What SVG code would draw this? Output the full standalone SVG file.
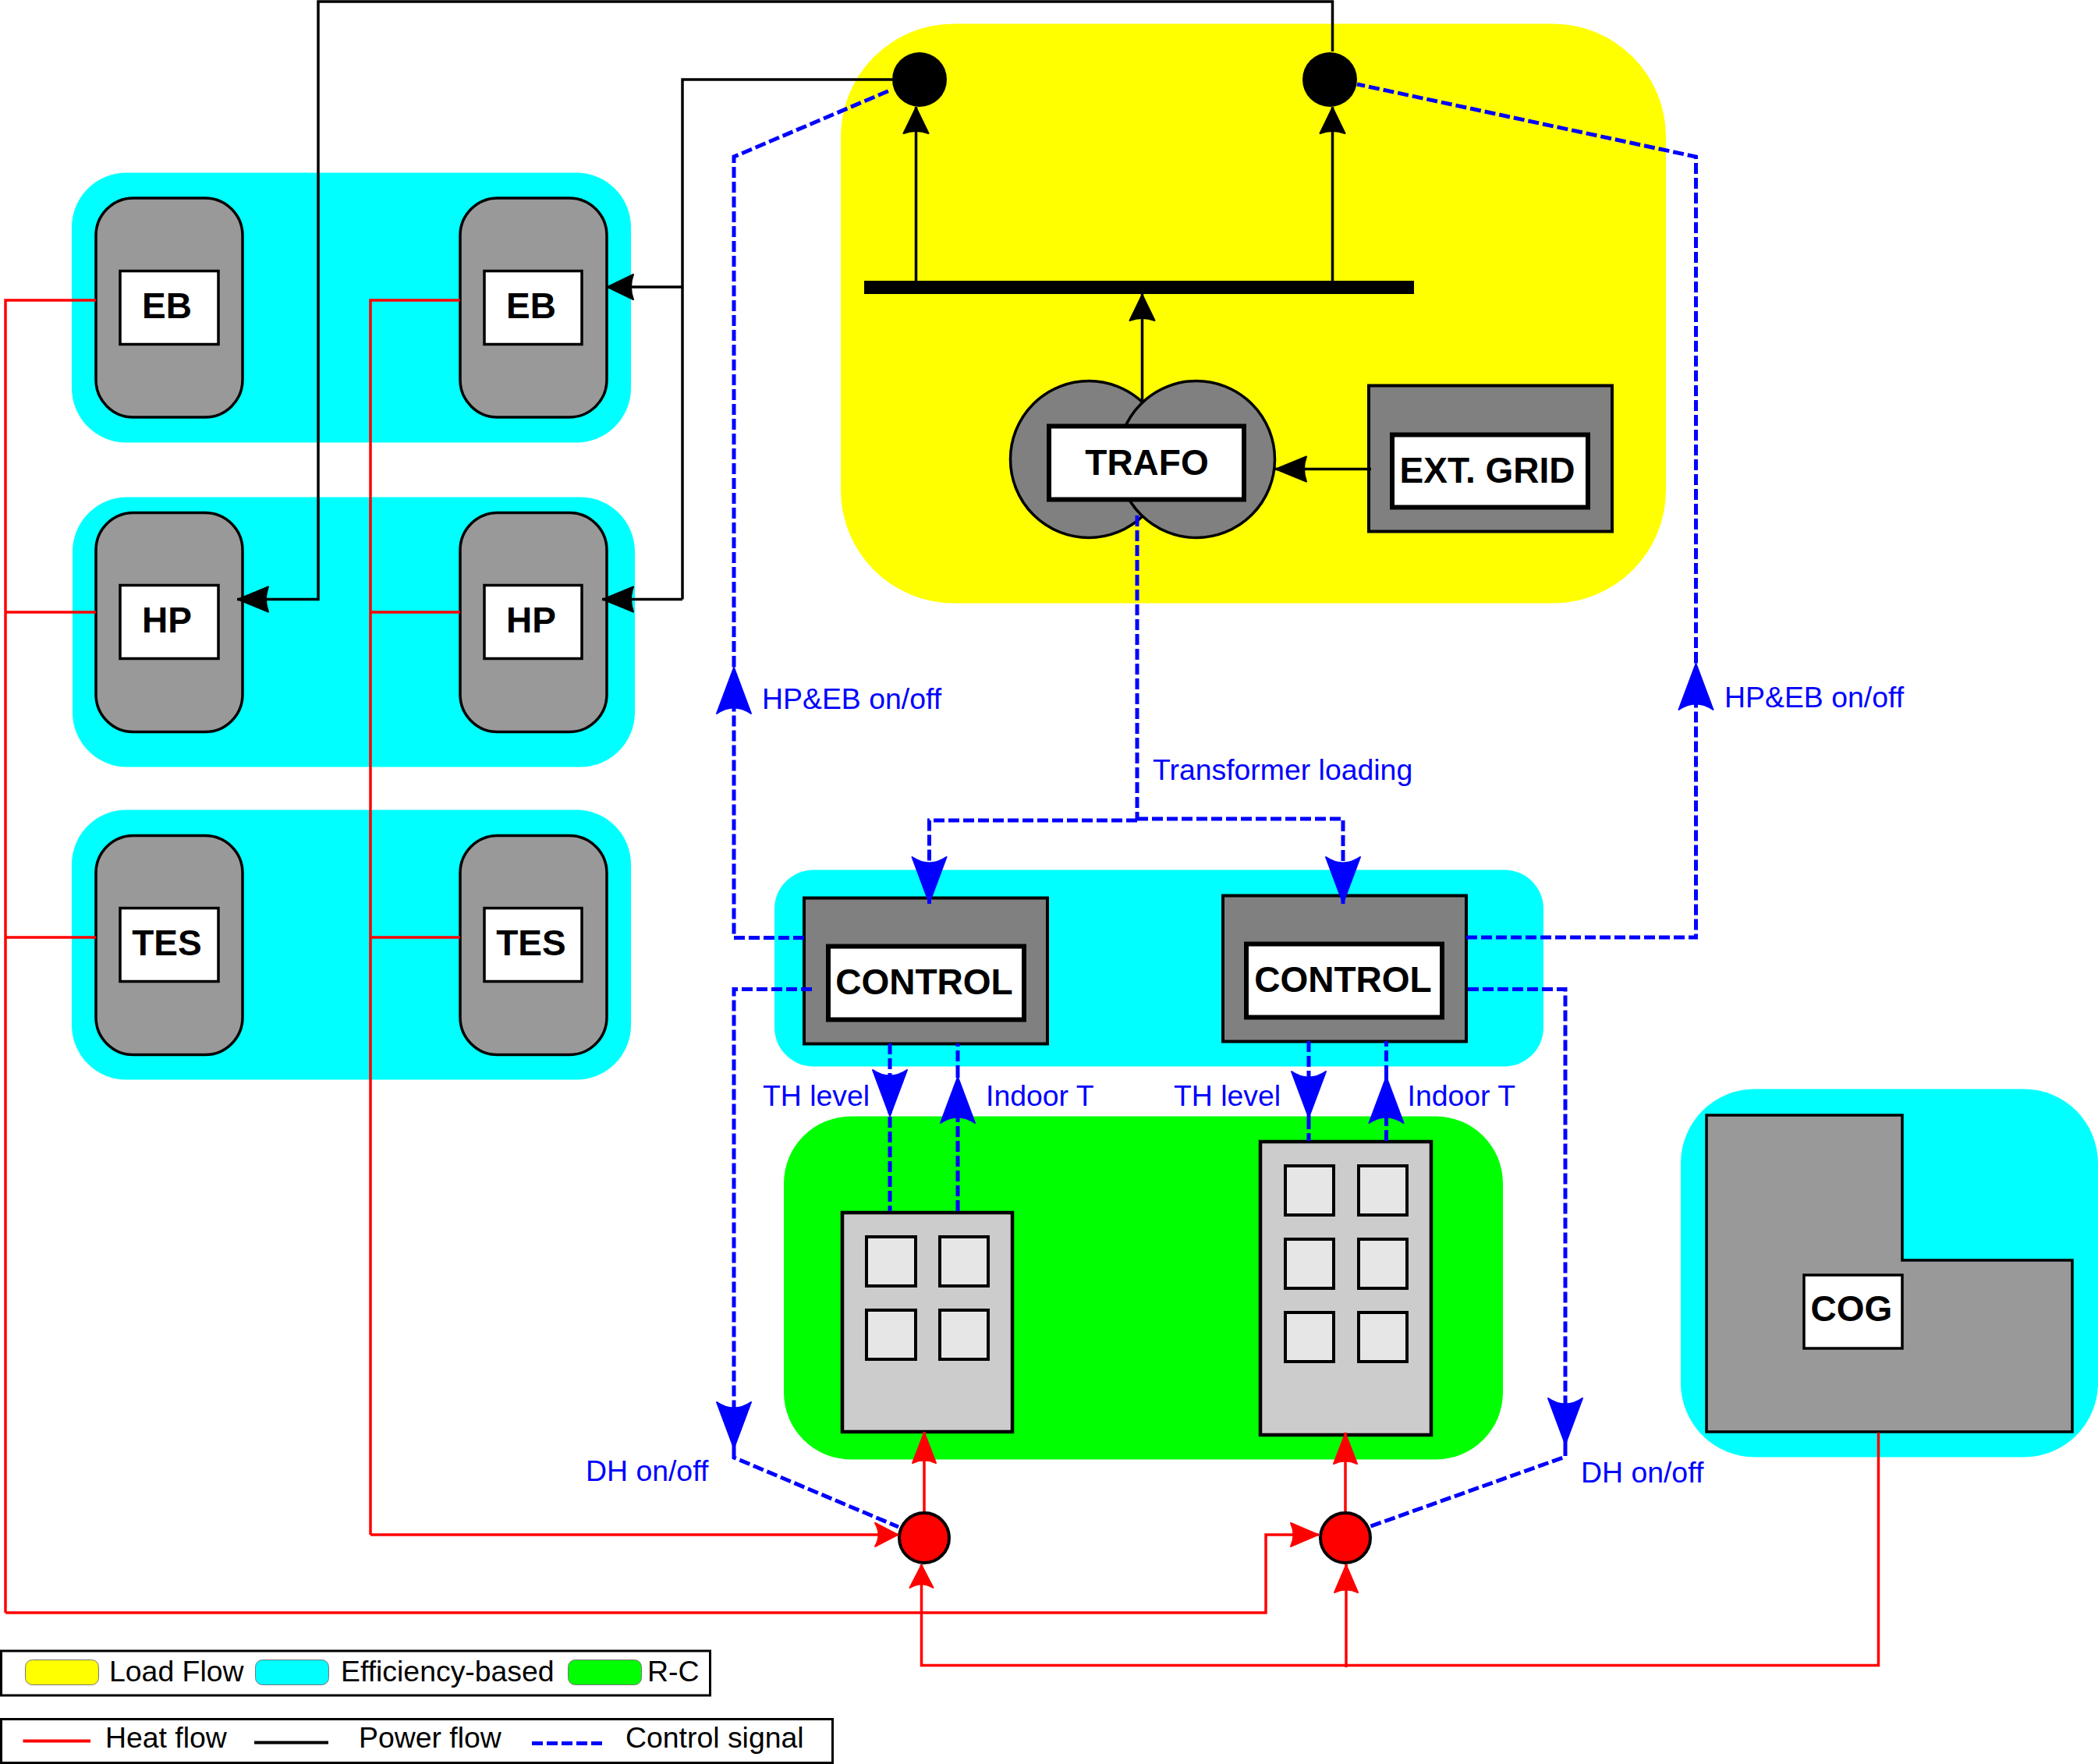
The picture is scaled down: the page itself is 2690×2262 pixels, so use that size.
<svg xmlns="http://www.w3.org/2000/svg" width="2690" height="2262" viewBox="0 0 2690 2262">
<style>
text{font-family:"Liberation Sans",Arial,sans-serif}
.lab{font-size:37.400px;fill:#00f}
.leg{font-size:37.400px;fill:#000}
.nm{font-size:46px;font-weight:700;fill:#000;text-anchor:middle}
.cy{fill:#0ff}
.dev{fill:#999;stroke:#000;stroke-width:3.500}
.box{fill:#808080;stroke:#000;stroke-width:4}
.wb{fill:#fff;stroke:#000;stroke-width:3.500}
.wt{fill:#fff;stroke:#000;stroke-width:6}
.bld{fill:#ccc;stroke:#000;stroke-width:4.500}
.win{fill:#e6e6e6;stroke:#000;stroke-width:4}
.sw{stroke:#777;stroke-width:1;rx:9px}
.lb{fill:#fff;stroke:#000;stroke-width:3}
#connectors path{fill:none}
.r{stroke:#f00;stroke-width:3.500}
.k{stroke:#000;stroke-width:3.500}
.c{stroke:#00f;stroke-width:5;stroke-dasharray:14 5}
.ah-r{marker-end:url(#mr)}
.ah-rm{marker-end:url(#mrm)}
.ah-rs{marker-end:url(#mrs)}
.ah-k{marker-end:url(#mk)}
.ah-kl{marker-end:url(#mkl)}
.ah-c{marker-end:url(#mc)}
.hd{stroke-width:2;stroke-linejoin:round}
</style>
<defs>
<marker id="mk" markerUnits="userSpaceOnUse" markerWidth="40" markerHeight="38" refX="37" refY="19" orient="auto"><path class="hd" d="M36 19L3 3Q9 19 3 35Z" fill="#000" stroke="#000"/></marker>
<marker id="mkl" markerUnits="userSpaceOnUse" markerWidth="46" markerHeight="38" refX="43" refY="19" orient="auto"><path class="hd" d="M42 19L3 3Q9 19 3 35Z" fill="#000" stroke="#000"/></marker>
<marker id="mr" markerUnits="userSpaceOnUse" markerWidth="46" markerHeight="38" refX="43" refY="19" orient="auto"><path class="hd" d="M42 19L3 4Q10 19 3 34Z" fill="#f00" stroke="#f00"/></marker>
<marker id="mrm" markerUnits="userSpaceOnUse" markerWidth="42" markerHeight="38" refX="39" refY="19" orient="auto"><path class="hd" d="M38 19L3 4Q10 19 3 34Z" fill="#f00" stroke="#f00"/></marker>
<marker id="mrs" markerUnits="userSpaceOnUse" markerWidth="36" markerHeight="38" refX="33" refY="19" orient="auto"><path class="hd" d="M32 19L3 4Q12 19 3 34Z" fill="#f00" stroke="#f00"/></marker>
<marker id="mc" markerUnits="userSpaceOnUse" markerWidth="64" markerHeight="50" refX="62" refY="25" orient="auto"><path class="hd" d="M61 25L2 3Q17 25 2 47Z" fill="#00f" stroke="#00f"/></marker>
</defs>

<g id="panels">
<rect id="panel-load-flow" x="1078" y="30.500" width="1058" height="743" rx="145" fill="#ff0"/>
<rect id="panel-eb" class="cy" x="92" y="221.500" width="717" height="346" rx="70"/>
<rect id="panel-hp" class="cy" x="93" y="637.500" width="721" height="346" rx="70"/>
<rect id="panel-tes" class="cy" x="92" y="1038.500" width="717" height="346" rx="70"/>
<rect id="panel-control" class="cy" x="993" y="1115.500" width="986" height="252" rx="50"/>
<rect id="panel-rc" x="1005" y="1431.500" width="922" height="440" rx="86" fill="#0f0"/>
<rect id="panel-cog" class="cy" x="2155" y="1396.500" width="535" height="472" rx="95"/>
</g>

<g id="node-eb-1"><rect class="dev" x="123" y="254" width="188" height="281" rx="48"/><rect class="wb" x="154" y="347.500" width="126" height="94"/><text class="nm" x="214" y="408">EB</text></g>
<g id="node-eb-2"><rect class="dev" x="590" y="254" width="188" height="281" rx="48"/><rect class="wb" x="621" y="347.500" width="125" height="94"/><text class="nm" x="681" y="408">EB</text></g>
<g id="node-hp-1"><rect class="dev" x="123" y="657.500" width="188" height="281" rx="48"/><rect class="wb" x="154" y="750.500" width="126" height="94"/><text class="nm" x="214" y="811">HP</text></g>
<g id="node-hp-2"><rect class="dev" x="590" y="657.500" width="188" height="281" rx="48"/><rect class="wb" x="621" y="750.500" width="125" height="94"/><text class="nm" x="681" y="811">HP</text></g>
<g id="node-tes-1"><rect class="dev" x="123" y="1071.500" width="188" height="281" rx="48"/><rect class="wb" x="154" y="1164.500" width="126" height="94"/><text class="nm" x="214" y="1225">TES</text></g>
<g id="node-tes-2"><rect class="dev" x="590" y="1071.500" width="188" height="281" rx="48"/><rect class="wb" x="621" y="1164.500" width="125" height="94"/><text class="nm" x="681" y="1225">TES</text></g>

<g id="node-bus-1"><circle cx="1179" cy="102" r="35" fill="#000"/></g>
<g id="node-bus-2"><circle cx="1705" cy="102" r="35" fill="#000"/></g>
<g id="node-busbar"><rect x="1108" y="360" width="705" height="17" fill="#000"/></g>
<g id="node-trafo">
<circle cx="1396" cy="589" r="100.500" fill="#808080" stroke="#000" stroke-width="3.500"/>
<circle cx="1534" cy="589" r="100.500" fill="#808080" stroke="#000" stroke-width="3.500"/>
<rect class="wt" x="1345" y="546.500" width="250" height="94"/><text class="nm" x="1470.500" y="609">TRAFO</text>
</g>
<g id="node-ext-grid"><rect class="box" x="1755" y="494.500" width="312" height="187"/><rect class="wt" x="1785" y="557.500" width="251" height="93"/><text class="nm" x="1907" y="619">EXT. GRID</text></g>

<g id="node-control-1"><rect class="box" x="1031" y="1151.500" width="312" height="187"/><rect class="wt" x="1062" y="1213.500" width="251" height="94"/><text class="nm" x="1185" y="1275">CONTROL</text></g>
<g id="node-control-2"><rect class="box" x="1568" y="1148.500" width="312" height="187"/><rect class="wt" x="1598" y="1210.500" width="251" height="94"/><text class="nm" x="1722" y="1272">CONTROL</text></g>

<g id="node-building-1"><rect class="bld" x="1080" y="1555" width="218" height="281"/>
<rect class="win" x="1111" y="1586" width="63" height="63"/><rect class="win" x="1205" y="1586" width="62" height="63"/>
<rect class="win" x="1111" y="1680" width="63" height="63"/><rect class="win" x="1205" y="1680" width="62" height="63"/></g>
<g id="node-building-2"><rect class="bld" x="1616" y="1464" width="219" height="376"/>
<rect class="win" x="1648" y="1495" width="62" height="63"/><rect class="win" x="1742" y="1495" width="62" height="63"/>
<rect class="win" x="1648" y="1589" width="62" height="63"/><rect class="win" x="1742" y="1589" width="62" height="63"/>
<rect class="win" x="1648" y="1683" width="62" height="63"/><rect class="win" x="1742" y="1683" width="62" height="63"/></g>

<g id="node-valve-1"><circle cx="1185" cy="1972" r="32" fill="#f00" stroke="#000" stroke-width="4"/></g>
<g id="node-valve-2"><circle cx="1725" cy="1972" r="32" fill="#f00" stroke="#000" stroke-width="4"/></g>

<g id="node-cog"><path class="dev" d="M2188 1430H2439V1616H2657V1836H2188Z"/><rect class="wb" x="2313" y="1635" width="126" height="94"/><text class="nm" x="2374" y="1694">COG</text></g>

<g id="connectors">
<path class="k ah-kl" d="M1708.500 66V2H408V768.500H304"/>
<path class="k" d="M1144 102H875V768.500"/>
<path class="k ah-k" d="M875 368H778"/>
<path class="k ah-kl" d="M875 768.500H772"/>
<path class="k ah-k" d="M1174.500 360V137"/>
<path class="k ah-k" d="M1708.500 360V137"/>
<path class="k ah-k" d="M1464.500 516V377"/>
<path class="k ah-kl" d="M1758 601.500H1635"/>

<path class="r" d="M123 385H7V2068"/>
<path class="r" d="M7 785H123M7 1202H123"/>
<path class="r ah-rm" d="M7 2068H1623V1968H1691"/>
<path class="r" d="M590 385H475V1968"/>
<path class="r" d="M475 785H590M475 1202H590"/>
<path class="r ah-rs" d="M475 1968H1152"/>
<path class="r ah-r" d="M1185 1938V1836"/>
<path class="r ah-r" d="M1725 1938V1837"/>
<path class="r ah-rs" d="M2408.500 1837V2135.500H1181.500V2006"/>
<path class="r ah-rm" d="M1726 2138V2006"/>

<path class="c" d="M1458 661V1051"/>
<path class="c ah-c" d="M1458 1052H1191.500V1159"/>
<path class="c ah-c" d="M1458 1050H1722V1159"/>
<path class="c ah-c" d="M1031 1202.500H941V855"/>
<path class="c" d="M941 855V201L1143 115"/>
<path class="c ah-c" d="M1880 1202H2174.500V850"/>
<path class="c" d="M2174.500 850V201L1740 108"/>
<path class="c ah-c" d="M1041 1268.500H941V1858"/>
<path class="c" d="M941 1858V1869L1152 1958"/>
<path class="c ah-c" d="M1882 1268.500H2007V1853"/>
<path class="c" d="M2007 1853V1868L1755 1958"/>
<path class="c ah-c" d="M1141 1338V1432"/>
<path class="c" d="M1141 1432V1553"/>
<path class="c ah-c" d="M1228 1553V1380"/>
<path class="c" d="M1228 1380V1338"/>
<path class="c ah-c" d="M1678 1335V1434"/>
<path class="c" d="M1678 1434V1463"/>
<path class="c ah-c" d="M1777.500 1463V1380"/>
<path class="c" d="M1777.500 1380V1335"/>
</g>

<g id="labels">
<text class="lab" x="977" y="909">HP&amp;EB on/off</text>
<text class="lab" x="2211" y="907">HP&amp;EB on/off</text>
<text class="lab" x="1478" y="1000">Transformer loading</text>
<text class="lab" x="978" y="1418">TH level</text>
<text class="lab" x="1505" y="1418">TH level</text>
<text class="lab" x="1264" y="1418">Indoor T</text>
<text class="lab" x="1804.500" y="1418">Indoor T</text>
<text class="lab" x="751" y="1899">DH on/off</text>
<text class="lab" x="2027" y="1901">DH on/off</text>
</g>

<g id="legend-models">
<rect class="lb" x="1.500" y="2117" width="909" height="57"/>
<rect class="sw" x="32.500" y="2128.500" width="94" height="32" fill="#ff0"/><text class="leg" x="140" y="2156">Load Flow</text>
<rect class="sw" x="327.500" y="2128.500" width="94" height="32" fill="#0ff"/><text class="leg" x="437" y="2156">Efficiency-based</text>
<rect class="sw" x="728.500" y="2128.500" width="94" height="32" fill="#0f0"/><text class="leg" x="830" y="2156">R-C</text>
</g>
<g id="legend-flows">
<rect class="lb" x="1.500" y="2204.500" width="1066" height="56"/>
<path d="M29.500 2232.500H116" stroke="#f00" stroke-width="4" fill="none"/><text class="leg" x="135" y="2241">Heat flow</text>
<path d="M326 2234.500H421" stroke="#000" stroke-width="4" fill="none"/><text class="leg" x="460" y="2241">Power flow</text>
<path d="M682 2235.500H773" stroke="#00f" stroke-width="5" stroke-dasharray="14 5" fill="none"/><text class="leg" x="802" y="2241">Control signal</text>
</g>
</svg>
